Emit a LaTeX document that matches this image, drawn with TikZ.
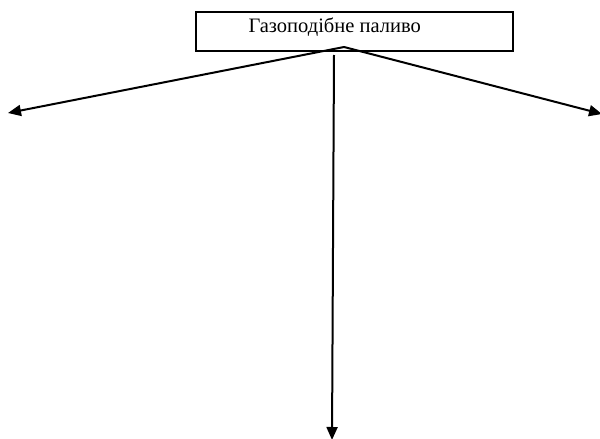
\documentclass[tikz,border=0pt]{standalone}
\usepackage{fontspec}
\setmainfont{Liberation Serif}
\usetikzlibrary{arrows.meta}
\begin{document}
\begin{tikzpicture}[x=1pt,y=-1pt,
  box/.style={draw,line width=2pt,minimum width=317pt,minimum height=39pt,inner sep=0pt,anchor=north west},
  conn/.style={line width=2pt,-{Triangle[length=13pt,width=11pt]}}]
\useasboundingbox (0,0) rectangle (600,439);
\node[box] (fuel) at (195,11) {};
\node[anchor=base west,font=\fontsize{20.5}{24}\selectfont] (label) at (245,32) {Газоподібне паливо};
\coordinate (split) at (344,47);
\coordinate (vtop) at (334,55);
\coordinate (left) at (8,113);
\coordinate (right) at (602,114);
\coordinate (bottom) at (332,440);
\draw[conn] (split) -- (left);
\draw[conn] (split) -- (right);
\draw[conn] (vtop) -- (bottom);
\end{tikzpicture}
\end{document}
